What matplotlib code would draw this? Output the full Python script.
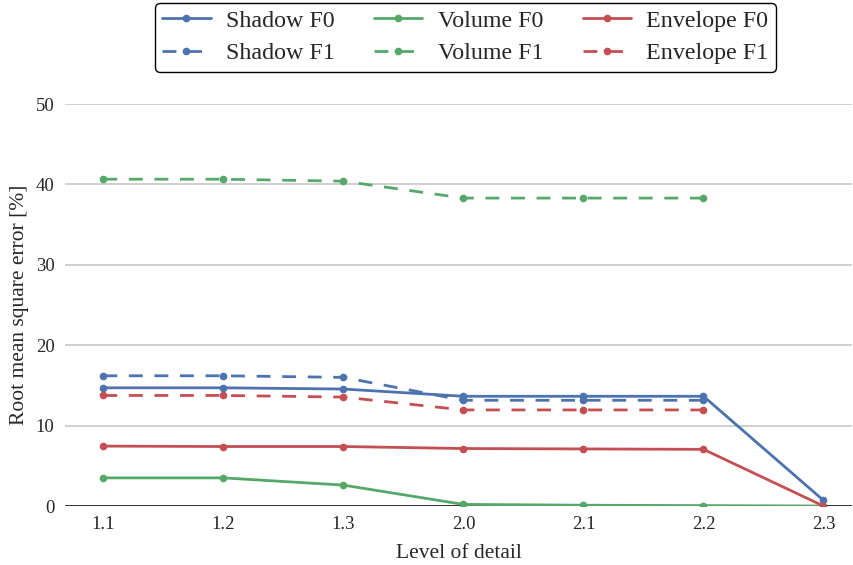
import matplotlib
matplotlib.use("Agg")
import matplotlib.pyplot as plt
import seaborn as sns
import numpy as np

sns.set_theme(style="whitegrid")
plt.rcParams['font.family'] = ['Liberation Serif', 'DejaVu Serif']

levels = ["1.1", "1.2", "1.3", "2.0", "2.1", "2.2", "2.3"]
shadow_f0 = [14.7, 14.7, 14.55, 13.65, 13.65, 13.65, 0.7]
shadow_f1 = [16.2, 16.2, 16.0, 13.15, 13.15, 13.15]
volume_f0 = [3.5, 3.5, 2.6, 0.2, 0.1, 0.05, 0.0]
volume_f1 = [40.65, 40.65, 40.4, 38.3, 38.3, 38.3]
envelope_f0 = [7.45, 7.4, 7.4, 7.15, 7.1, 7.05, 0.0]
envelope_f1 = [13.75, 13.75, 13.55, 11.95, 11.95, 11.95]

pal = sns.color_palette("deep")
blue, green, red = pal[0], pal[2], pal[3]

fig = plt.figure(figsize=(8.54, 5.65), dpi=100)
ax = fig.add_axes([0.076, 0.1044, 0.922, 0.7115])

x = np.arange(len(levels))
lw = 2.0
ms = 4.5
dash = (5.0, 4.2)
kw = dict(lw=lw, ms=ms, marker='o', zorder=3)
ax.plot(x[:len(shadow_f0)], shadow_f0, '-', color=blue, label="Shadow F0", **kw)
ax.plot(x[:len(shadow_f1)], shadow_f1, '--', color=blue, dashes=dash, label="Shadow F1", **kw)
ax.plot(x[:len(volume_f0)], volume_f0, '-', color=green, label="Volume F0", **kw)
ax.plot(x[:len(volume_f1)], volume_f1, '--', color=green, dashes=dash, label="Volume F1", **kw)
ax.plot(x[:len(envelope_f0)], envelope_f0, '-', color=red, label="Envelope F0", **kw)
ax.plot(x[:len(envelope_f1)], envelope_f1, '--', color=red, dashes=dash, label="Envelope F1", **kw)

ax.axhline(0, color='#222222', lw=2.0, zorder=2.5)
ax.set_xlim(-0.32, 6.24)
ax.set_ylim(0, 50)
ax.set_xticks(x)
ax.set_xticklabels(levels)
ax.set_yticks([0, 10, 20, 30, 40, 50])
ax.grid(axis='x', visible=False)
ax.grid(axis='y', color='#cccccc', lw=1.3)
for s in ax.spines.values():
    s.set_visible(False)
ax.tick_params(axis='both', labelsize=13.5, colors='#262626', length=0)
ax.tick_params(axis='y', pad=7.5)
ax.tick_params(axis='x', pad=7)
ax.set_xlabel("Level of detail", fontsize=15.5, color='#262626', labelpad=8)
ax.set_ylabel("Root mean square error [%]", fontsize=15.5, color='#262626', labelpad=5)

handles, labels = ax.get_legend_handles_labels()
leg = fig.legend(handles, labels, ncol=3,
                 loc='upper center', bbox_to_anchor=(0.545, 0.995), fontsize=17.3,
                 frameon=True, fancybox=True, edgecolor='black', framealpha=1,
                 handlelength=2.0, columnspacing=1.65, handletextpad=0.64,
                 borderpad=0.3, labelspacing=0.45, borderaxespad=0)
leg.get_frame().set_linewidth(1.0)

fig.savefig("out.png", dpi=100)
